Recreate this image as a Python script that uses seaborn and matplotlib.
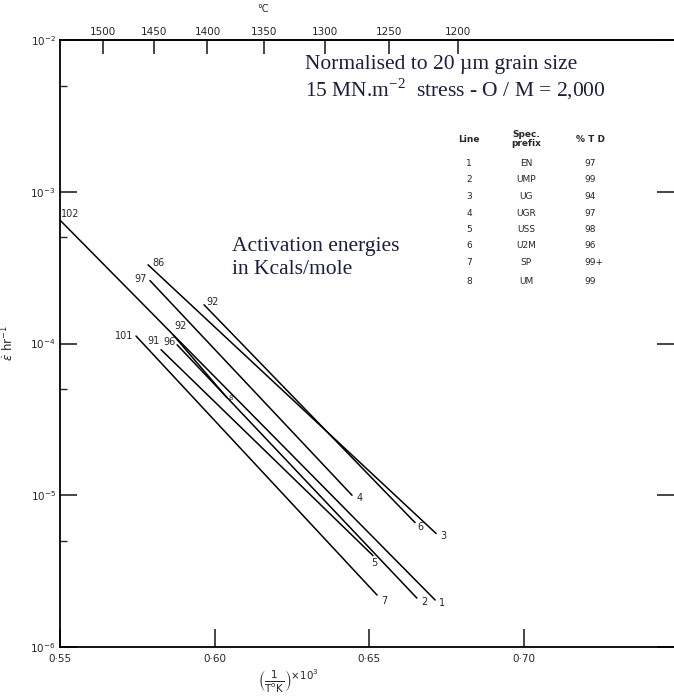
import matplotlib
matplotlib.use('Agg')
import matplotlib.pyplot as plt
from matplotlib.ticker import NullFormatter, NullLocator
import numpy as np
import pandas as pd
import seaborn as sns

# creep lines: start / end of each line
line_ids = ['1', '2', '3', '4', '5', '6', '7', '8']
energies = ['102', '96', '86', '97', '91', '92', '101', '92']
x_start = [0.5500, 0.5879, 0.5785, 0.5791, 0.5827, 0.5966, 0.5746, 0.5866]
y_start = [6.5e-4, 9.8e-5, 3.3e-4, 2.6e-4, 9.1e-5, 1.8e-4, 1.12e-4, 1.14e-4]
x_end = [0.6714, 0.6655, 0.6717, 0.6445, 0.6513, 0.6649, 0.6526, 0.6040]
y_end = [2.04e-6, 2.10e-6, 5.6e-6, 1.0e-5, 4.0e-6, 6.6e-6, 2.2e-6, 4.4e-5]

table_line = ['1', '2', '3', '4', '5', '6', '7', '8']
table_prefix = ['EN', 'UMP', 'UG', 'UGR', 'USS', 'U2M', 'SP', 'UM']
table_td = ['97', '99', '94', '97', '98', '96', '99+', '99']

temp_ticks_c = [1500, 1450, 1400, 1350, 1300, 1250, 1200]
y_decades = [1e-6, 1e-5, 1e-4, 1e-3, 1e-2]
y_decade_labels = [r'$10^{-6}$', r'$10^{-5}$', r'$10^{-4}$', r'$10^{-3}$', r'$10^{-2}$']
y_minor = [5e-6, 5e-5, 5e-4, 5e-3]
x_ticks = [0.55, 0.60, 0.65, 0.70]
x_tick_labels = ['0·55', '0·60', '0·65', '0·70']

# label placement (offset in points, ha, va)
start_lab = [((1, 1), 'left', 'bottom'), ((-1, 2), 'right', 'center'),
             ((3, 1), 'left', 'center'), ((-2, 1), 'right', 'center'),
             ((-1, 3), 'right', 'bottom'), ((2, 2), 'left', 'center'),
             ((-2, 0), 'right', 'center'), ((1, 3), 'left', 'bottom')]
end_lab = [((3, -2), 'left', 'center'), ((3, -3), 'left', 'center'),
           ((3, -2), 'left', 'center'), ((3, -2), 'left', 'center'),
           ((1, -2), 'center', 'top'), ((2, -3), 'left', 'center'),
           ((3, -4), 'left', 'center'), ((1, 0), 'left', 'center')]

sns.set_style('white')
plt.rcParams['font.family'] = ['DejaVu Sans']

rows = []
for i, lid in enumerate(line_ids):
    rows.append({'line': lid, 'x': x_start[i], 'y': y_start[i]})
    rows.append({'line': lid, 'x': x_end[i], 'y': y_end[i]})
df = pd.DataFrame(rows)

W, H = 674, 700
fig = plt.figure(figsize=(W / 100, H / 100), dpi=100)
ax = fig.add_axes([60 / W, 1 - 647 / H, (W - 60) / W, (647 - 40) / H])

sns.lineplot(data=df, x='x', y='y', units='line', estimator=None,
             color='black', lw=1.1, ax=ax, legend=False)
ax.set_yscale('log')
ax.set_xlim(0.55, 0.7487)
ax.set_ylim(1e-6, 1e-2)

for i in range(len(line_ids)):
    (dx, dy), ha, va = start_lab[i]
    ax.annotate(energies[i], (x_start[i], y_start[i]), xytext=(dx, dy),
                textcoords='offset points', ha=ha, va=va, fontsize=7)
    (dx, dy), ha, va = end_lab[i]
    ax.annotate(line_ids[i], (x_end[i], y_end[i]), xytext=(dx, dy),
                textcoords='offset points', ha=ha, va=va,
                fontsize=5 if i == 7 else 7)

ax.set_yticks(y_decades)
ax.set_yticklabels(y_decade_labels, fontsize=7.5)
ax.set_yticks(y_minor, minor=True)
ax.yaxis.set_minor_formatter(NullFormatter())
ax.set_xticks(x_ticks)
ax.set_xticklabels(x_tick_labels, fontsize=7.5)
ax.xaxis.set_minor_locator(NullLocator())
ax.tick_params(axis='y', which='major', direction='in', length=12, width=1.2,
               left=True, right=True, pad=3)
ax.tick_params(axis='y', which='minor', direction='in', length=5, width=1.0,
               left=True, right=False)
ax.tick_params(axis='x', which='major', direction='in', length=13, width=1.2,
               bottom=True, top=False, pad=5)
for s in ['left', 'bottom', 'top']:
    ax.spines[s].set_linewidth(1.3)
    ax.spines[s].set_color('black')
ax.spines['right'].set_visible(False)
ax.set_xlabel(r'$\left(\frac{1}{\mathrm{T^{o}K}}\right)^{\times 10^{3}}$', fontsize=10.5)
ax.xaxis.set_label_coords((288 - 60) / 614, -0.035)
ax.set_ylabel(r'$\dot{\varepsilon}$ hr$^{-1}$', fontsize=8.5)
ax.yaxis.set_label_coords((16 - 60) / 614, 0.5)

def c_from_inv(x):
    x = np.asarray(x, dtype=float)
    return 1000.0 / np.where(x == 0, 1e-9, x) - 273.0

def inv_from_c(t):
    t = np.asarray(t, dtype=float)
    return 1000.0 / np.where(t == -273.0, 1e-9, t + 273.0)

secax = ax.secondary_xaxis('top', functions=(c_from_inv, inv_from_c))
secax.set_xticks(temp_ticks_c)
secax.set_xticklabels([str(t) for t in temp_ticks_c], fontsize=7.5)
secax.set_xticks([1350], minor=True)
secax.tick_params(which='major', direction='in', length=10, width=1.2, pad=2)
secax.tick_params(which='minor', direction='in', length=17, width=1.2)
secax.spines['top'].set_linewidth(1.3)
fig.text(263 / W, 1 - 9 / H, '°C', fontsize=7, ha='center', va='center')

serif = dict(family='Liberation Serif', fontsize=15.5, color='#1a1f40')
fig.text(305 / W, 1 - 69 / H, 'Normalised to 20 µm grain size', va='baseline', **serif)
fig.text(305 / W, 1 - 96 / H, r'15 MN.m$^{\mathregular{-2}}$  stress - O / M = 2,000',
         va='baseline', **serif)
fig.text(232 / W, 1 - 251 / H, 'Activation energies', va='baseline', **serif)
fig.text(232 / W, 1 - 274 / H, 'in Kcals/mole', va='baseline', **serif)

# specimen table
fig.text(469 / W, 1 - 140 / H, 'Line', fontsize=6.5, ha='center', va='center', weight='bold')
fig.text(526 / W, 1 - 139 / H, 'Spec.\nprefix', fontsize=6.5, ha='center', va='center',
         weight='bold', linespacing=0.95)
fig.text(590 / W, 1 - 140 / H, '% T D', fontsize=6.5, ha='center', va='center', weight='bold')
row_y = [163, 180, 197, 213, 229, 246, 263, 281]
for i in range(len(table_line)):
    fig.text(469 / W, 1 - row_y[i] / H, table_line[i], fontsize=6.5, ha='center', va='center')
    fig.text(526 / W, 1 - row_y[i] / H, table_prefix[i], fontsize=6.5, ha='center', va='center')
    fig.text(584 / W, 1 - row_y[i] / H, table_td[i], fontsize=6.5, ha='left', va='center')

fig.savefig('out.png', dpi=100)
